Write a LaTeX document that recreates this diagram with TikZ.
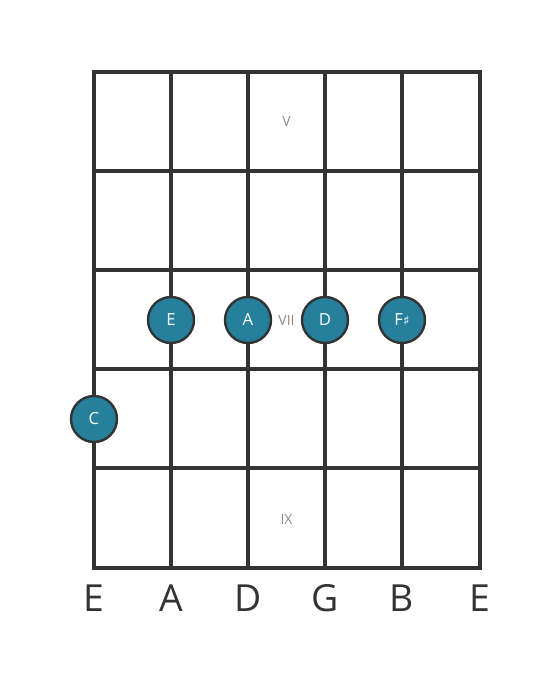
\documentclass[tikz,border=0pt]{standalone}
\usepackage{fontspec}
\setmainfont{Open Sans}
\newfontfamily\symfont{DejaVu Sans}
\definecolor{fretline}{HTML}{333333}
\definecolor{notefill}{HTML}{267F9B}
\definecolor{fretnum}{HTML}{8A8A8A}

\tikzset{
  string/.style={draw=fretline, line width=2.4pt},
  fret/.style={draw=fretline, line width=3.6pt},
  notedot/.style={circle, fill=notefill, draw=fretline, line width=1.8pt,
    minimum size=34.5pt, inner sep=0pt, text=white, font=\fontsize{12.5}{12.5}\selectfont},
  fretlabel/.style={text=fretnum, font=\fontsize{10.5}{10.5}\selectfont},
  stringname/.style={text=fretline, font=\fontsize{28}{28}\selectfont}
}

\begin{document}
\begin{tikzpicture}[x=0.75pt, y=-0.75pt]
  \useasboundingbox (0,0) rectangle (560,682);
  % strings
  \draw[string] (94,72) -- (94,568);
  \draw[string] (171,72) -- (171,568);
  \draw[string] (248,72) -- (248,568);
  \draw[string] (325,72) -- (325,568);
  \draw[string] (402,72) -- (402,568);
  \draw[string] (480,72) -- (480,568);
  % frets
  \draw[fret] (92.4,72) -- (481.6,72);
  \draw[fret] (92.4,171) -- (481.6,171);
  \draw[fret] (92.4,270) -- (481.6,270);
  \draw[fret] (92.4,369) -- (481.6,369);
  \draw[fret] (92.4,468) -- (481.6,468);
  \draw[fret] (92.4,568) -- (481.6,568);
  % fret numbers
  \node[fretlabel] (fretV) at (286.5,122) {V};
  \node[fretlabel] (fretVII) at (286.5,320) {VII};
  \node[fretlabel] (fretIX) at (286.5,519) {IX};
  % notes
  \node[notedot] (noteE) at (171,320) {E};
  \node[notedot] (noteA) at (248,320) {A};
  \node[notedot] (noteD) at (325,320) {D};
  \node[notedot] (noteFs) at (402,320) {F{\symfont\fontsize{10}{10}\selectfont ♯}};
  \node[notedot] (noteC) at (94,419) {C};
  % string names
  \node[stringname] (nameE) at (94,598) {E};
  \node[stringname] (nameA) at (171,598) {A};
  \node[stringname] (nameD) at (248,598) {D};
  \node[stringname] (nameG) at (325,598) {G};
  \node[stringname] (nameB) at (402,598) {B};
  \node[stringname] (nameEhi) at (480,598) {E};
\end{tikzpicture}
\end{document}
